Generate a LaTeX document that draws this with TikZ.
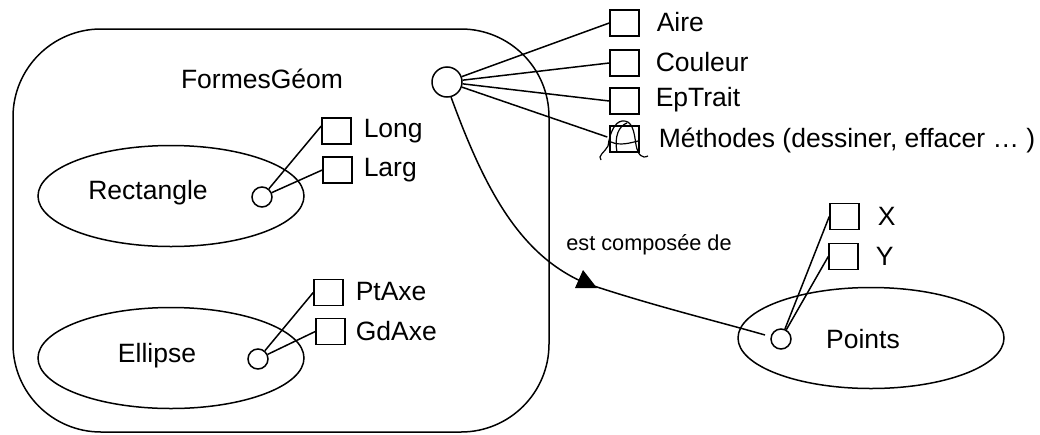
\documentclass[tikz,border=0pt]{standalone}
\usepackage{fontspec}
\setmainfont{Liberation Sans}
\usetikzlibrary{shapes.geometric}
\begin{document}
\begin{tikzpicture}[x=1pt,y=-1pt,line width=1.5pt,
  lbl/.style={font=\fontsize{26.5}{31}\selectfont, inner sep=0pt},
  slbl/.style={font=\fontsize{21.7}{26}\selectfont, inner sep=0pt},
  attr/.style={draw, minimum width=29pt, minimum height=26pt, inner sep=0pt},
  port/.style={draw, circle, minimum size=20pt, inner sep=0pt},
  bigport/.style={draw, circle, minimum size=30pt, inner sep=0pt},
  ent/.style={draw, ellipse, minimum width=266pt, minimum height=101pt, inner sep=0pt},
  link/.style={draw}]
\useasboundingbox (0,0) rectangle (1040,434);
% container
\node[draw, rounded corners=88pt, minimum width=536pt, minimum height=403pt, inner sep=0pt] (forms) at (281,230.5) {};
\node[lbl] (formslbl) at (262,79) {FormesGéom};
% Rectangle
\node[ent] (rect) at (171,196) {};
\node[lbl] (rectlbl) at (148,193) {Rectangle};
\node[port] (rc) at (262,197) {};
\node[attr] (long) at (336.5,131) {};
\node[attr] (larg) at (337.5,170) {};
\node[lbl, anchor=west] (longlbl) at (363,131) {Long};
\node[lbl, anchor=west] (larglbl) at (363,170) {Larg};
\draw[link] (rc) -- ([yshift=5pt]long.west);
\draw[link] (rc) -- (larg.west);
% Ellipse
\node[ent] (ell) at (171,358) {};
\node[lbl] (elllbl) at (157,356) {Ellipse};
\node[port] (ec) at (258,359) {};
\node[attr] (ptaxe) at (328.5,292.5) {};
\node[attr] (gdaxe) at (330.5,331.5) {};
\node[lbl, anchor=west] (ptaxelbl) at (355,292) {PtAxe};
\node[lbl, anchor=west] (gdaxelbl) at (355,331) {GdAxe};
\draw[link] (ec) -- (ptaxe.west);
\draw[link] (ec) -- (gdaxe.west);
% FormesGeom attributes
\node[bigport] (bc) at (447,82) {};
\node[attr] (aire) at (624.5,23) {};
\node[attr] (coul) at (624.5,63) {};
\node[attr] (ept) at (624.5,101) {};
\node[attr] (meth) at (624.5,139) {};
\node[lbl, anchor=west] (airelbl) at (656,22) {Aire};
\node[lbl, anchor=west] (coullbl) at (655,62) {Couleur};
\node[lbl, anchor=west] (eptlbl) at (655,100) {EpTrait};
\node[lbl, anchor=west] (methlbl) at (658,140) {Méthodes (dessiner, effacer … )};
\draw[link] (bc) -- (aire.west);
\draw[link] (bc) -- (coul.west);
\draw[link] (bc) -- (ept.west);
\draw[link] (bc) -- ([xshift=-2pt,yshift=2pt]meth.west);
% scribble on the methods box
\draw[line width=1.2pt] (601,160) .. controls (597,156) and (605,152) .. (608,146) .. controls (610,132) and (615,122) .. (622,121) .. controls (632,120) and (634,130) .. (636,145) .. controls (638,155) and (642,159) .. (648,156);
\draw[line width=1.2pt] (617,152) .. controls (614,136) and (619,126) .. (627,123);
\draw[line width=1.2pt] (611,142) .. controls (620,146) and (630,143) .. (638,141);
% Points
\node[ent] (pts) at (871,338) {};
\node[lbl] (ptslbl) at (863,339) {Points};
\node[port] (pc) at (781,339) {};
\node[attr] (xb) at (844.5,216.5) {};
\node[attr] (yb) at (843.5,256.5) {};
\node[lbl, anchor=west] (xlbl) at (877,216) {X};
\node[lbl, anchor=west] (ylbl) at (875,256) {Y};
\draw[link] (pc) -- (xb.west);
\draw[link] (pc) -- (yb.west);
% composition link
\coordinate (mid) at (585,283);
\coordinate (pend) at (765,335);
\draw[link] (bc.-75) .. controls (485,190) and (520,255) .. (mid) .. controls (650,305) and (720,322) .. (pend);
\fill (575,288) -- (583,270) -- (597,288) -- cycle;
\node[slbl] (comp) at (649,245) {est composée de};
\end{tikzpicture}
\end{document}
